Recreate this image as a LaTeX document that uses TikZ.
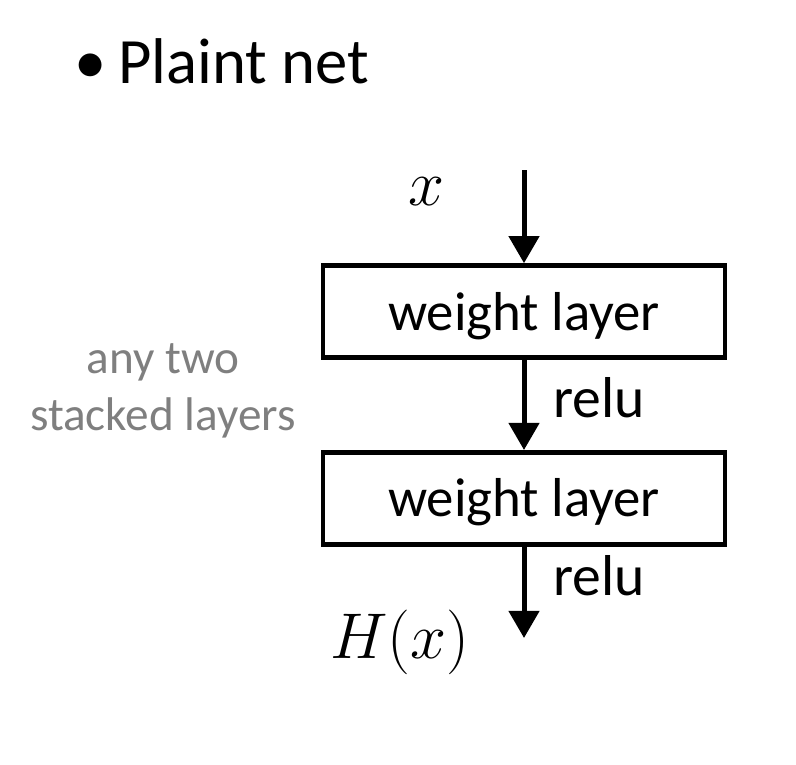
\RequirePackage{fix-cm}
\documentclass[tikz,border=0pt]{standalone}
\usepackage{fontspec}
\setmainfont{Carlito}
\usepackage{tikz}
\usetikzlibrary{arrows.meta, positioning}
\definecolor{notegray}{RGB}{127,127,127}

\begin{document}
\begin{tikzpicture}[layerstyle/.style={
	draw,rectangle,line width=0.12cm,minimum width=10.05cm,minimum height=2.3cm,align=center,
	text height=1.22cm,text depth=0.3cm,font=\fontsize{39}{46}\selectfont
}, flowarrow/.style={line width=0.125cm,-{Triangle[length=0.68cm,width=0.75cm]}},
actlabel/.style={anchor=base west,inner sep=0,font=\fontsize{41}{48}\selectfont}]

	\useasboundingbox (0,0) rectangle (19.9,-19.1);

	\node[anchor=base west,inner sep=0,font=\fontsize{46}{55}\selectfont] at (1.85,-2.075) (title) {\makebox[1.1cm][l]{\textbullet}Plaint net};

	\node[layerstyle] at (13.1,-7.79) (wl1) {weight layer};
	\node[layerstyle,below=2.25cm of wl1] (wl2) {weight layer};
	\coordinate (xtop) at (13.1,-4.25);
	\coordinate (hend) at (13.1,-15.95);

	\node[anchor=base,inner sep=0,font=\fontsize{46}{52}\selectfont] at (10.65,-5.125) (xin) {$x$};
	\node[anchor=base west,inner sep=0,font=\fontsize{46}{52}\selectfont] at (8.25,-16.45) (hout) {$H(x)$};
	\node[actlabel] at (13.82,-10.425) (relu1) {relu};
	\node[actlabel] at (13.82,-14.875) (relu2) {relu};

	\node[align=center,text=notegray,font=\fontsize{33.6}{40.5}\selectfont] at (4.075,-9.76) (note) {any two\\stacked layers};

	\draw[flowarrow] (xtop) -- (wl1);
	\draw[flowarrow] (wl1) -- (wl2);
	\draw[flowarrow] (wl2) -- (hend);
\end{tikzpicture}
\end{document}
